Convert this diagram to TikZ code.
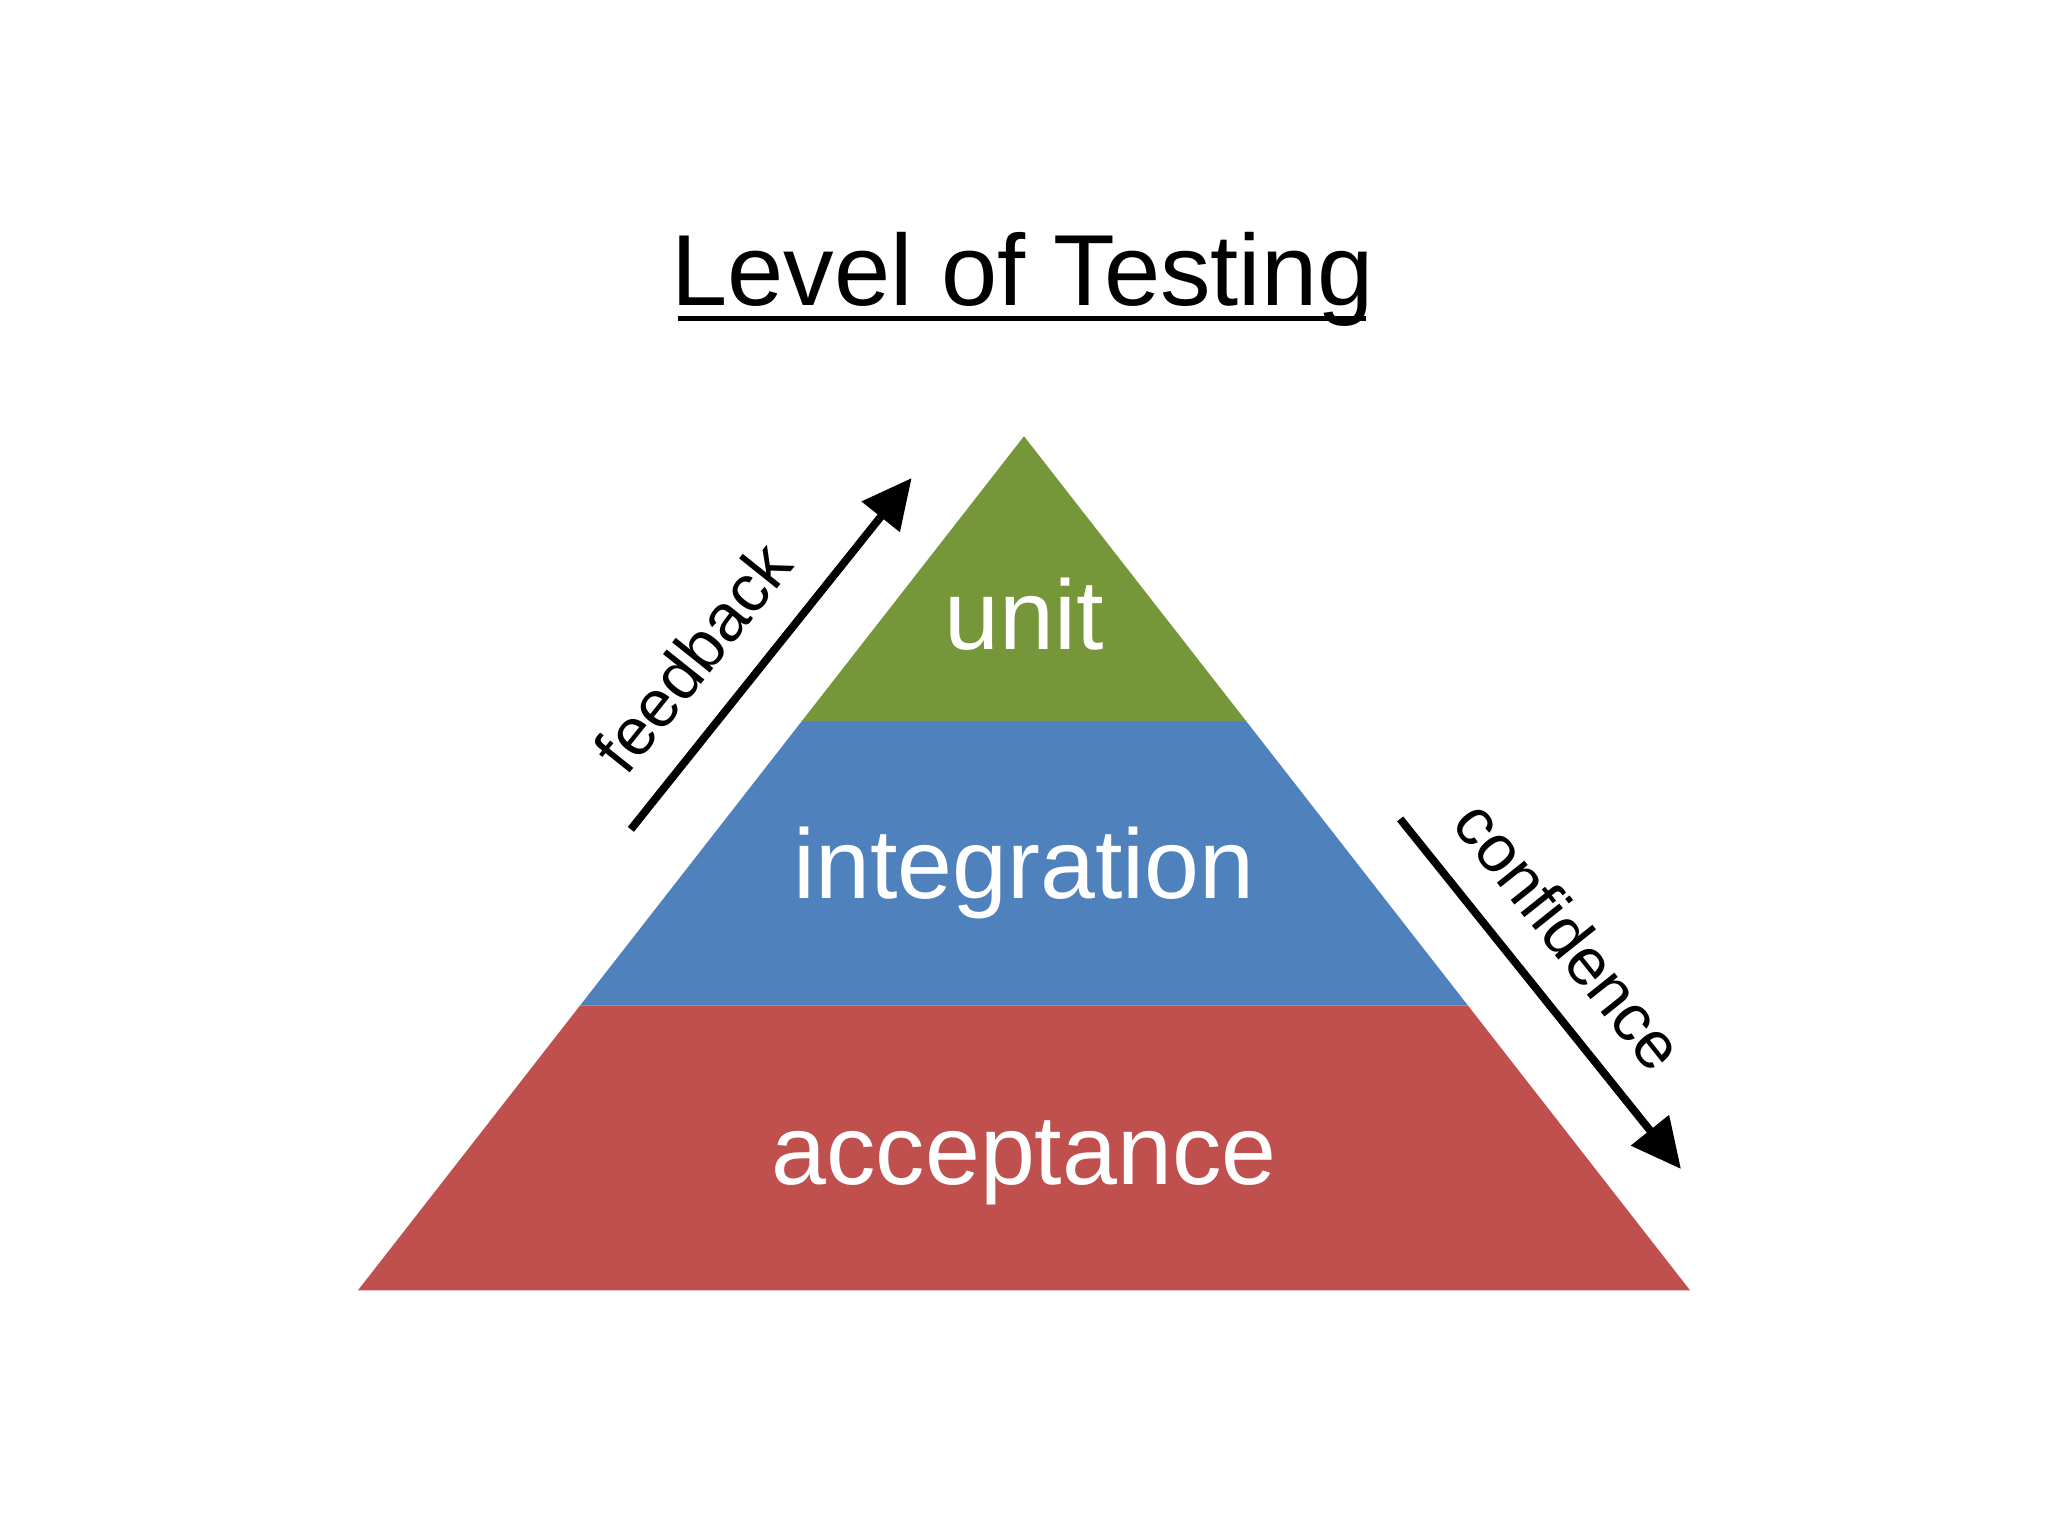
\documentclass[tikz,border=0pt]{standalone}
\usepackage{fontspec}
\setmainfont{Liberation Sans}
\usetikzlibrary{arrows.meta}
\definecolor{cgreen}{HTML}{76963A}
\definecolor{cblue}{HTML}{4F81BD}
\definecolor{cred}{HTML}{C0504D}
\begin{document}
\begin{tikzpicture}[x=0.01cm,y=-0.01cm,
  lvl/.style={text=white,font=\fontsize{21.5}{25}\selectfont},
  side/.style={font=\fontsize{14.5}{17}\selectfont},
  bigarrow/.style={line width=1.7pt,-{Triangle[length=0.38cm,width=0.36cm]}}]
\useasboundingbox (0,0) rectangle (1568,1176);
\fill[cgreen] (784,334) -- (954,552) -- (614,552) -- cycle;
\fill[cblue] (614,552) -- (954,552) -- (1124,770) -- (444,770) -- cycle;
\fill[cred] (444,770) -- (1124,770) -- (1294,988) -- (274,988) -- cycle;
\node[inner sep=0] (title) at (783,214) {\fontsize{22}{26}\selectfont Level of Testing};
\draw[line width=1.1pt] (519,244) -- (1046,244);
\node[lvl] (unit) at (784,470) {unit};
\node[lvl] (integ) at (784,668) {integration};
\node[lvl] (acc) at (784,890) {acceptance};
\coordinate (f1) at (483,635);
\coordinate (f2) at (698,366);
\draw[bigarrow] (f1) -- (f2);
\node[side,rotate=51.4] (fb) at (530,503) {feedback};
\coordinate (c1) at (1072,627);
\coordinate (c2) at (1287,895);
\draw[bigarrow] (c1) -- (c2);
\node[side,rotate=-51.4] (conf) at (1202,716) {confidence};
\end{tikzpicture}
\end{document}
